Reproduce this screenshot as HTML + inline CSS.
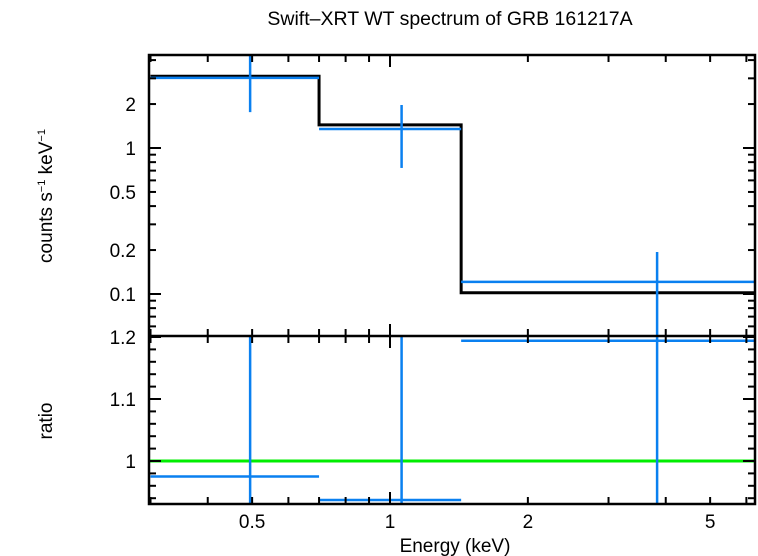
<!DOCTYPE html>
<html><head><meta charset="utf-8"><style>
body{margin:0;background:#fff;}
svg{display:block;font-family:"Liberation Sans",sans-serif;}
</style></head><body>
<svg id="c" width="758" height="556"></svg>
<script>
const binLo=[0.3,0.7,1.43];
const binHi=[0.7,1.43,6.3];
const dataX=[0.495,1.06,3.83];
const dataY=[3.02,1.35,0.121];
const dataYHi=[5,1.97,0.194];
const dataYLo=[1.76,0.73,0.03];
const modelY=[3.1,1.44,0.102];
const ratio=[0.975,0.937,1.194];
const ratioHi=[1.3,1.3,1.3];
const ratioLo=[0.9,0.9,0.9];
const xTicks=[0.5,1,2,5];
const yTicks=[0.1,0.2,0.5,1,2];
const yTickLabels=["0.1","0.2","0.5","1","2"];
const rTicks=[1,1.1,1.2];
const rTickLabels=["1","1.1","1.2"];

const L=149,R=755,T=55,M=336,B=504;
const BLUE='#0a80f0';
const x=v=>390+Math.log10(v)*458;
const y=v=>148-Math.log10(v)*146;
const yr=v=>461-(v-1)*620;
const s=document.getElementById('c');
const NS="http://www.w3.org/2000/svg";
function el(t,a,p){const e=document.createElementNS(NS,t);for(const k in a)e.setAttribute(k,a[k]);(p||s).appendChild(e);return e;}
function line(x1,y1,x2,y2,c,w,p){return el('line',{x1,y1,x2,y2,stroke:c,'stroke-width':w},p);}
function text(tx,xx,yy,anchor,size,p){const e=el('text',{x:xx,y:yy,'text-anchor':anchor,'font-size':size,fill:'#000'},p);e.textContent=tx;return e;}
const clipT=el('clipPath',{id:'ct'});el('rect',{x:L,y:T,width:R-L,height:M-T},clipT);
const clipB=el('clipPath',{id:'cb'});el('rect',{x:L,y:M,width:R-L,height:B-M},clipB);

const t=text('Swift–XRT WT spectrum of GRB 161217A',450,25,'middle',19.5);


const gm=el('g',{'clip-path':'url(#ct)'});


let d='';
for(let i=0;i<binLo.length;i++){d+=(i?'L':'M')+x(binLo[i])+' '+y(modelY[i])+'L'+x(binHi[i])+' '+y(modelY[i]);}
el('path',{d,fill:'none',stroke:'#000','stroke-width':3},gm);
const gd=el('g',{'clip-path':'url(#ct)'});


for(let i=0;i<dataX.length;i++){
  line(x(binLo[i]),y(dataY[i]),x(binHi[i]),y(dataY[i]),BLUE,2.5,gd);
  line(x(dataX[i]),y(dataYHi[i]),x(dataX[i]),y(dataYLo[i]),BLUE,2.5,gd);
}
const gr=el('g',{'clip-path':'url(#cb)'});


line(L,yr(1),R,yr(1),'#00ee00',3,gr);
for(let i=0;i<dataX.length;i++){
  line(x(binLo[i]),yr(ratio[i]),x(binHi[i]),yr(ratio[i]),BLUE,2.5,gr);
  line(x(dataX[i]),yr(ratioHi[i]),x(dataX[i]),yr(ratioLo[i]),BLUE,2.5,gr);
}
el('rect',{x:L,y:T,width:R-L,height:B-T,fill:'none',stroke:'#000','stroke-width':2.5});
line(L,M,R,M,'#000',2.5);
for(let dec=0.1;dec<10;dec*=10){for(let k=1;k<10;k++){const v=dec*k;const xx=x(v);if(xx<L||xx>R)continue;
  const len=(k===1)?12:7;
  [T,M,B].forEach(yy=>{
    if(yy!==B) line(xx,yy,xx,yy+len,'#000',2);
    if(yy!==T) line(xx,yy,xx,yy-len,'#000',2);
  });}}
xTicks.forEach(v=>text(String(v),x(v),528,'middle',19));
for(let dec=0.01;dec<10;dec*=10){for(let k=1;k<10;k++){const v=dec*k;const yy=y(v);if(yy<T||yy>M)continue;
  const len=(k===1)?12:7;line(L,yy,L+len,yy,'#000',2);line(R,yy,R-len,yy,'#000',2);}}
yTicks.forEach((v,i)=>text(yTickLabels[i],136,y(v)+7,'end',19));
for(let n=46;n<=60;n++){const v=n*0.02;const yy=yr(v);if(yy<M||yy>B)continue;const maj=(n%5===0);
  const len=maj?12:7;line(L,yy,L+len,yy,'#000',2);line(R,yy,R-len,yy,'#000',2);}
rTicks.forEach((v,i)=>text(rTickLabels[i],136,yr(v)+7,'end',19));
const xl=text('Energy (keV)',455,552,'middle',19);


const yl=el('text',{x:0,y:0,'font-size':19,transform:'translate(52,196) rotate(-90)','text-anchor':'middle'});


yl.innerHTML='counts s<tspan dy="-7" font-size="11">−1</tspan><tspan dy="7"> keV</tspan><tspan dy="-7" font-size="11">−1</tspan>';
const rl=el('text',{x:0,y:0,'font-size':19,transform:'translate(52,421) rotate(-90)','text-anchor':'middle'});


rl.textContent='ratio';
</script>
</body></html>
